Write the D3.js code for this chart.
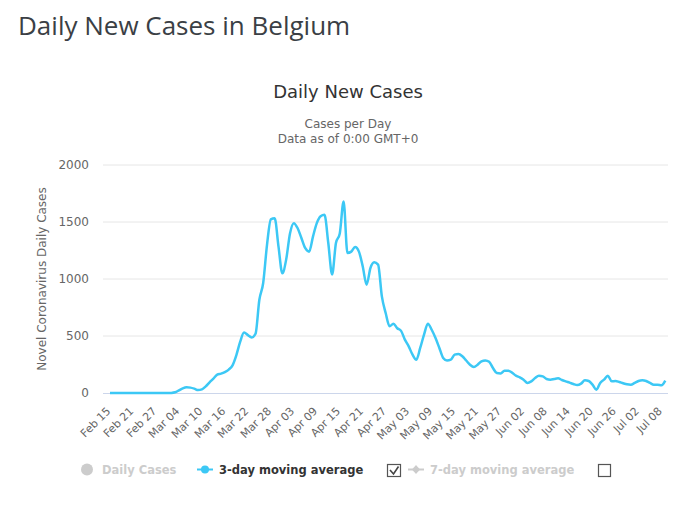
<!DOCTYPE html>
<html>
<head>
<meta charset="utf-8">
<script src="https://cdn.jsdelivr.net/npm/d3@7.9.0/dist/d3.min.js"></script>
<style>
  body { margin: 0; background: #fff; }
  svg { display: block; }
</style>
</head>
<body>
<svg id="chart" width="700" height="518"></svg>
<script>
// First day of the series
const startDate = "2020-02-15";

// 3-day moving average of daily new cases, one value per day from Feb 15
const avg3 = [
  0, 0, 0, 0, 0, 0, 0, 0, 0, 0,
  0, 0, 0, 0, 0, 0, 1, 6, 23, 41,
  50, 47, 38, 26, 32, 58, 94, 126, 161, 170,
  184, 205, 243, 333, 450, 530, 508, 487, 520, 818,
  965, 1300, 1523, 1533, 1284, 1050, 1170, 1400, 1490, 1445,
  1357, 1270, 1240, 1372, 1490, 1550, 1563, 1316, 1040, 1316,
  1400, 1680, 1228, 1240, 1280, 1240, 1110, 950, 1096, 1146,
  1126, 845, 700, 585, 608, 568, 545, 468, 409, 336,
  292, 395, 512, 608, 555, 482, 395, 307, 285, 292,
  336, 342, 322, 285, 248, 228, 248, 278, 286, 274,
  219, 175, 172, 196, 196, 178, 152, 137, 117, 88,
  102, 131, 152, 146, 123, 117, 123, 129, 114, 102,
  91, 79, 70, 82, 111, 105, 73, 29, 88, 117,
  152, 102, 105, 96, 85, 76, 73, 88, 105, 111,
  105, 88, 73, 73, 67, 108
];

const tickLabels = [
  "Feb 15", "Feb 21", "Feb 27", "Mar 04", "Mar 10", "Mar 16", "Mar 22", "Mar 28",
  "Apr 03", "Apr 09", "Apr 15", "Apr 21", "Apr 27", "May 03", "May 09", "May 15",
  "May 21", "May 27", "Jun 02", "Jun 08", "Jun 14", "Jun 20", "Jun 26", "Jul 02", "Jul 08"
];
const yTicks = [0, 500, 1000, 1500, 2000];

const legendItems = ["Daily Cases", "3-day moving average", "7-day moving average"];

const lineColor = "#3cc8f5";
const uiFont = "'DejaVu Sans', sans-serif";

const parseDay = d3.timeParse("%Y-%m-%d");
const parseTick = d3.timeParse("%Y %b %d");
const day0 = parseDay(startDate);
const data = avg3.map((v, i) => ({ date: d3.timeDay.offset(day0, i), value: v }));
const tickDates = tickLabels.map((t) => parseTick("2020 " + t));

const svg = d3.select("#chart");

// Page heading
svg.append("text")
  .attr("x", 18)
  .attr("y", 35)
  .attr("font-family", "'Open Sans', sans-serif")
  .attr("font-size", 26)
  .attr("fill", "#3b3f45")
  .text("Daily New Cases in Belgium");

// Chart titles
svg.append("text")
  .attr("x", 348)
  .attr("y", 98)
  .attr("text-anchor", "middle")
  .attr("font-family", uiFont)
  .attr("font-size", 18)
  .attr("fill", "#333")
  .text("Daily New Cases");

svg.append("text")
  .attr("x", 348)
  .attr("y", 128)
  .attr("text-anchor", "middle")
  .attr("font-family", uiFont)
  .attr("font-size", 12)
  .attr("fill", "#666")
  .text("Cases per Day");

svg.append("text")
  .attr("x", 348)
  .attr("y", 143)
  .attr("text-anchor", "middle")
  .attr("font-family", uiFont)
  .attr("font-size", 12)
  .attr("fill", "#666")
  .text("Data as of 0:00 GMT+0");

// Plot area
const plot = { left: 103, right: 668, top: 165, bottom: 393 };

const x = d3.scaleTime()
  .domain([day0, d3.timeDay.offset(day0, 145)])
  .range([110, 665.3]);

const y = d3.scaleLinear()
  .domain([0, 2000])
  .range([plot.bottom, plot.top]);

// Gridlines
svg.append("g")
  .selectAll("line")
  .data(yTicks.filter((d) => d > 0))
  .join("line")
  .attr("x1", plot.left)
  .attr("x2", plot.right)
  .attr("y1", (d) => y(d))
  .attr("y2", (d) => y(d))
  .attr("stroke", "#e6e6e6")
  .attr("stroke-width", 1);

// Y axis (labels only)
const yAxis = d3.axisLeft(y).tickValues(yTicks).tickSize(0).tickPadding(0).tickFormat(d3.format("d"));
const yG = svg.append("g")
  .attr("transform", "translate(89,0)")
  .call(yAxis);
yG.select(".domain").remove();
yG.selectAll("text")
  .attr("font-family", uiFont)
  .attr("font-size", 12)
  .attr("fill", "#666");

svg.append("text")
  .attr("transform", `translate(46,${(plot.top + plot.bottom) / 2}) rotate(-90)`)
  .attr("text-anchor", "middle")
  .attr("font-family", uiFont)
  .attr("font-size", 12)
  .attr("fill", "#666")
  .text("Novel Coronavirus Daily Cases");

// X axis
svg.append("line")
  .attr("x1", plot.left)
  .attr("x2", plot.right)
  .attr("y1", plot.bottom + 0.5)
  .attr("y2", plot.bottom + 0.5)
  .attr("stroke", "#ccd6eb");

const xAxis = d3.axisBottom(x)
  .tickValues(tickDates)
  .tickSize(0)
  .tickFormat((d, i) => tickLabels[i]);
const xG = svg.append("g")
  .attr("transform", `translate(0,${plot.bottom})`)
  .call(xAxis);
xG.select(".domain").remove();
xG.selectAll("text")
  .attr("font-family", uiFont)
  .attr("font-size", 11)
  .attr("fill", "#666")
  .attr("text-anchor", "end")
  .attr("dy", "0.35em")
  .attr("transform", "translate(-2,16) rotate(-45)")
  .attr("y", 0)
  .attr("x", 0);

// Line
const line = d3.line()
  .x((d) => x(d.date))
  .y((d) => y(d.value))
  .curve(d3.curveMonotoneX);

svg.append("path")
  .datum(data)
  .attr("fill", "none")
  .attr("stroke", lineColor)
  .attr("stroke-width", 2.5)
  .attr("stroke-linejoin", "round")
  .attr("d", line);

// Legend
const legend = svg.append("g")
  .attr("font-family", uiFont)
  .attr("font-size", 11.5)
  .attr("font-weight", "bold");

legend.append("circle")
  .attr("cx", 87).attr("cy", 469.5).attr("r", 6)
  .attr("fill", "#ccc");
legend.append("text")
  .attr("x", 102).attr("y", 474)
  .attr("fill", "#ccc")
  .text(legendItems[0]);

legend.append("line")
  .attr("x1", 197).attr("x2", 213).attr("y1", 469.5).attr("y2", 469.5)
  .attr("stroke", lineColor).attr("stroke-width", 2);
legend.append("circle")
  .attr("cx", 205).attr("cy", 469.5).attr("r", 4)
  .attr("fill", lineColor);
legend.append("text")
  .attr("x", 219).attr("y", 474)
  .attr("fill", "#333")
  .text(legendItems[1]);

// checked checkbox
legend.append("rect")
  .attr("x", 387.5).attr("y", 464.5).attr("width", 13).attr("height", 12)
  .attr("fill", "#fff").attr("stroke", "#555").attr("stroke-width", 1.2);
legend.append("path")
  .attr("d", "M390,470 L393.5,474 L398.5,466.5")
  .attr("fill", "none").attr("stroke", "#444").attr("stroke-width", 1.6);

legend.append("line")
  .attr("x1", 408).attr("x2", 424).attr("y1", 469.5).attr("y2", 469.5)
  .attr("stroke", "#ccc").attr("stroke-width", 2);
legend.append("path")
  .attr("d", "M416,465 L420,469.5 L416,474 L412,469.5 Z")
  .attr("fill", "#ccc");
legend.append("text")
  .attr("x", 430).attr("y", 474)
  .attr("fill", "#ccc")
  .text(legendItems[2]);

// empty checkbox
legend.append("rect")
  .attr("x", 598.5).attr("y", 464.5).attr("width", 12).attr("height", 12)
  .attr("fill", "#fff").attr("stroke", "#555").attr("stroke-width", 1.2);
</script>
</body>
</html>
